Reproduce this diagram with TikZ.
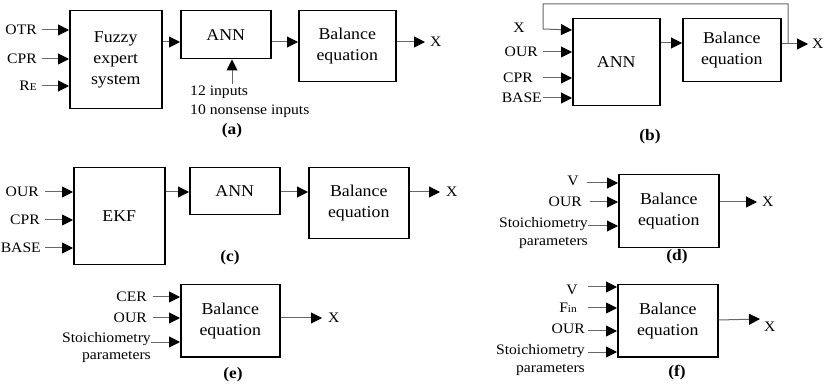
\documentclass[tikz,border=0pt]{standalone}
\usepackage{fontspec}
\setmainfont{Liberation Serif}[FakeStretch=1.08]
\usetikzlibrary{arrows.meta}

\tikzset{
  blk/.style={draw=black, line width=1.5pt, inner sep=0pt, align=center,
    anchor=north west, font=\fontsize{16.5}{21}\selectfont},
  lbl/.style={inner sep=0pt, font=\fontsize{14.5}{19}\selectfont},
  sublabel/.style={inner sep=0pt, font=\fontsize{16}{19}\selectfont\bfseries},
  conn/.style={draw=black!60, line width=1pt,
    -{Triangle[length=11pt,width=11pt,color=black]}},
}
\newcommand{\smallE}{{\fontsize{10.5}{12}\selectfont E}}
\newcommand{\smallin}{{\fontsize{10.5}{12}\selectfont in}}

\begin{document}
\begin{tikzpicture}[x=1pt,y=-1pt]
\useasboundingbox (0,0) rectangle (836,390);

% ---------------- (a) ----------------
\node[blk, minimum width=92pt, minimum height=98pt] (fuz) at (69,10) {Fuzzy\\expert\\system};
\node[blk, minimum width=90pt, minimum height=48pt] (annA) at (180,10) {ANN};
\node[blk, minimum width=97pt, minimum height=71pt] (balA) at (298,10) {Balance\\equation};
\node[lbl, anchor=east] (otr) at (37,30) {OTR};
\node[lbl, anchor=east] (cprA) at (37,59) {CPR};
\node[lbl, anchor=east] (re) at (37,86) {R\smallE};
\draw[conn] ([xshift=5pt]otr.east) -- (otr.east -| fuz.west);
\draw[conn] ([xshift=5pt]cprA.east) -- (cprA.east -| fuz.west);
\draw[conn] ([xshift=5pt]re.east) -- (re.east -| fuz.west);
\draw[conn] (fuz.east |- 0,42) -- (annA.west |- 0,42);
\draw[conn] (annA.east |- 0,42) -- (balA.west |- 0,42);
\node[lbl, anchor=west] (xa) at (430,42) {X};
\draw[conn] (balA.east |- 0,42) -- ([xshift=-5pt]xa.west);
\node[lbl, anchor=north west, align=left] (inA) at (190,86) {12 inputs\\10 nonsense inputs};
\coordinate (upA) at (232,84);
\draw[conn] (upA) -- (upA |- annA.south);
\node[sublabel] (capa) at (232,131) {(a)};

% ---------------- (b) ----------------
\node[blk, minimum width=87pt, minimum height=87pt] (annB) at (572,18) {ANN};
\node[blk, minimum width=98pt, minimum height=63pt] (balB) at (682,18) {Balance\\equation};
\node[lbl] (xbin) at (519,28) {X};
\node[lbl, anchor=east] (ourB) at (538,52) {OUR};
\node[lbl, anchor=east] (cprB) at (533,78) {CPR};
\node[lbl, anchor=east] (baseB) at (542,98) {BASE};
\draw[conn] ([xshift=5pt]ourB.east) -- (ourB.east -| annB.west);
\draw[conn] ([xshift=10pt]cprB.east) -- (cprB.east -| annB.west);
\draw[conn] ([xshift=1pt]baseB.east) -- (baseB.east -| annB.west);
\draw[conn] (annB.east |- 0,43) -- (balB.west |- 0,43);
\node[lbl, anchor=west] (xb) at (812,44) {X};
\draw[conn] (balB.east |- 0,44) -- ([xshift=-4pt]xb.west);
\coordinate (fbk) at (788,44);
\draw[conn] (fbk) -- (788,4) -- (543,4) -- (543,29) -- (annB.west |- 0,30);
\node[sublabel] (capb) at (650,137) {(b)};

% ---------------- (c) ----------------
\node[blk, minimum width=91pt, minimum height=97pt] (ekf) at (73,167) {EKF};
\node[blk, minimum width=90pt, minimum height=47pt] (annC) at (189,167) {ANN};
\node[blk, minimum width=100pt, minimum height=71pt] (balC) at (308,167) {Balance\\equation};
\node[lbl, anchor=east] (ourC) at (39,192) {OUR};
\node[lbl, anchor=east] (cprC) at (40,220) {CPR};
\node[lbl, anchor=east] (baseC) at (41,248) {BASE};
\draw[conn] (ourC.east -| 45,0) -- (ourC.east -| ekf.west);
\draw[conn] (cprC.east -| 45,0) -- (cprC.east -| ekf.west);
\draw[conn] (baseC.east -| 45,0) -- (baseC.east -| ekf.west);
\draw[conn] (ekf.east |- 0,192) -- (annC.west |- 0,192);
\draw[conn] (annC.east |- 0,192) -- (balC.west |- 0,192);
\node[lbl, anchor=west] (xc) at (446,192) {X};
\draw[conn] (balC.east |- 0,192) -- ([xshift=-6pt]xc.west);
\node[sublabel] (capc) at (230,258) {(c)};

% ---------------- (d) ----------------
\node[blk, minimum width=100pt, minimum height=73pt] (balD) at (618,174) {Balance\\equation};
\node[lbl] (vD) at (573,181) {V};
\node[lbl, anchor=east] (ourD) at (582,202) {OUR};
\node[lbl, anchor=east] (stD) at (588,224) {Stoichiometry};
\node[lbl, anchor=east] (parD) at (588,243) {parameters};
\draw[conn] (587,183) -- (balD.west |- 0,183);
\draw[conn] (ourD.east -| 590,0) -- (ourD.east -| balD.west);
\draw[conn] ([yshift=-2pt]stD.east) -- (balD.west |- 0,226);
\node[lbl, anchor=west] (xd) at (762,202) {X};
\draw[conn] (balD.east |- 0,202) -- ([xshift=-5pt]xd.west);
\node[sublabel] (capd) at (677,257) {(d)};

% ---------------- (e) ----------------
\node[blk, minimum width=99pt, minimum height=72pt] (balE) at (180,284) {Balance\\equation};
\node[lbl, anchor=east] (cerE) at (147,297) {CER};
\node[lbl, anchor=east] (ourE) at (147,318) {OUR};
\node[lbl, anchor=east] (stE) at (151,339) {Stoichiometry};
\node[lbl, anchor=east] (parE) at (151,357) {parameters};
\draw[conn] ([xshift=6pt]cerE.east) -- (cerE.east -| balE.west);
\draw[conn] ([xshift=6pt]ourE.east) -- (ourE.east -| balE.west);
\draw[conn] ([yshift=-3pt]stE.east) -- (balE.west |- 0,342);
\node[lbl, anchor=west] (xe) at (328,318) {X};
\draw[conn] (balE.east |- 0,318) -- ([xshift=-6pt]xe.west);
\node[sublabel] (cape) at (233,375) {(e)};

% ---------------- (f) ----------------
\node[blk, minimum width=100pt, minimum height=72pt] (balF) at (617,284) {Balance\\equation};
\node[lbl] (vF) at (572,290) {V};
\node[lbl, anchor=east] (finF) at (577,308) {F\smallin};
\node[lbl, anchor=east] (ourF) at (585,329) {OUR};
\node[lbl, anchor=east] (stF) at (585,351) {Stoichiometry};
\node[lbl, anchor=east] (parF) at (585,370) {parameters};
\draw[conn] (588,287) -- (balF.west |- 0,287);
\draw[conn] (finF.east -| 588,0) -- (finF.east -| balF.west);
\draw[conn] ([xshift=3pt, yshift=-2pt]ourF.east) -- (balF.west |- 0,331);
\draw[conn] ([xshift=3pt, yshift=-1pt]stF.east) -- (balF.west |- 0,352);
\node[lbl, anchor=west] (xf) at (764,327) {X};
\draw[conn] (balF.east |- 0,320) -- ([xshift=-4pt]xf.west |- 0,319);
\node[sublabel] (capf) at (677,373) {(f)};
\end{tikzpicture}
\end{document}
